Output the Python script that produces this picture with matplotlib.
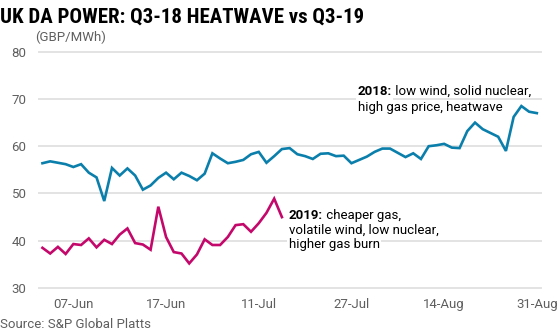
import matplotlib
matplotlib.use("Agg")
import matplotlib.pyplot as plt

plt.rcParams['font.family'] = ['Roboto', 'DejaVu Sans']

# Day-ahead prices, GBP/MWh, one value per trading day
q3_2018 = [56.4, 56.8, 56.5, 56.2, 55.6, 56.2, 54.4, 53.4, 48.4, 55.4,
           53.8, 55.3, 53.8, 50.8, 51.7, 53.3, 54.4, 53.0, 54.4, 53.7,
           52.8, 54.2, 58.5, 57.4, 56.4, 56.7, 57.1, 58.3, 58.8, 56.5,
           57.9, 59.4, 59.6, 58.3, 57.9, 57.3, 58.4, 58.5, 57.9, 58.0,
           56.4, 57.1, 57.8, 58.8, 59.5, 59.5, 58.6, 57.7, 58.5, 57.3,
           60.0, 60.2, 60.5, 59.7, 59.6, 63.2, 65.0, 63.6, 62.8, 62.0,
           59.0, 66.2, 68.5, 67.3, 67.0]
q3_2019 = [38.5, 37.3, 38.7, 37.2, 39.3, 39.1, 40.5, 38.6, 40.2, 39.3,
           41.3, 42.6, 39.5, 39.2, 38.1, 47.2, 40.8, 37.6, 37.3, 35.2,
           37.1, 40.3, 39.1, 39.1, 40.8, 43.3, 43.5, 41.9, 43.7, 45.9,
           48.9, 45.0]

x_tick_pos = [4, 16, 28, 40, 52, 64]
x_tick_labels = ['07-Jun', '17-Jun', '11-Jul', '27-Jul', '14-Aug', '31-Aug']
y_ticks = [30, 40, 50, 60, 70, 80]

title = 'UK DA POWER: Q3-18 HEATWAVE vs Q3-19'
unit = '(GBP/MWh)'
source = 'Source: S&P Global Platts'

BLUE = '#0b7fab'
PINK = '#c4086b'
GRID = '#e3e3e3'
TICK = '#5f5f5f'

fig = plt.figure(figsize=(5.6, 3.35), dpi=100)
ax = fig.add_axes([0.0696, 0.1403, 0.8959, 0.7054])

for y in y_ticks:
    ax.axhline(y, color=GRID, lw=1.4, zorder=0, clip_on=False)

ax.plot(range(len(q3_2018)), q3_2018, color=BLUE, lw=1.9, zorder=3,
        solid_joinstyle='miter')
ax.plot(range(len(q3_2019)), q3_2019, color=PINK, lw=1.9, zorder=3,
        solid_joinstyle='miter')

ax.set_xlim(-0.45, 64.5)
ax.set_ylim(30, 80)
ax.set_yticks(y_ticks)
ax.set_xticks(x_tick_pos)
ax.set_xticklabels(x_tick_labels)
ax.tick_params(length=0, labelsize=9.5, labelcolor=TICK)
ax.tick_params(axis='y', pad=9)
ax.tick_params(axis='x', pad=7)
for s in ax.spines.values():
    s.set_visible(False)

fig.text(0.0, 0.978, title, fontsize=15, fontweight='bold',
         family=['Roboto Condensed', 'Liberation Sans Narrow', 'Roboto'],
         va='top', ha='left', color='black')
fig.text(35 / 560, 1 - 37 / 335, unit, fontsize=9.5, color=TICK,
         va='center', ha='left')
fig.text(0.0, 1 - 325 / 335, source, fontsize=9.5, color=TICK,
         va='center', ha='left')


def label_block(x, y, head, lines, dy):
    box = dict(facecolor='white', edgecolor='none', pad=1.0)
    t = ax.text(x, y, head, fontsize=9.5, fontweight='bold', color='black',
                transform=ax.transData, va='baseline', ha='left', zorder=2,
                bbox=box)
    ax.annotate(' ' + lines[0], xy=(1, 0), xycoords=t, va='bottom',
                ha='left', fontsize=9.5, color='black', zorder=2,
                annotation_clip=False)
    for i, line in enumerate(lines[1:], start=1):
        ax.annotate(line, xy=(x, y), xycoords='data',
                    xytext=(0, -dy * i), textcoords='offset pixels',
                    va='baseline', ha='left', fontsize=9.5, color='black',
                    zorder=2, bbox=box, annotation_clip=False)


label_block(40.8, 70.8, '2018:', ['low wind, solid nuclear,',
                                   'high gas price, heatwave'], 16)
label_block(31.9, 44.6, '2019:', ['cheaper gas,', 'volatile wind, low nuclear,',
                                   'higher gas burn'], 14.5)

fig.savefig('out.png', dpi=100, facecolor='white')
